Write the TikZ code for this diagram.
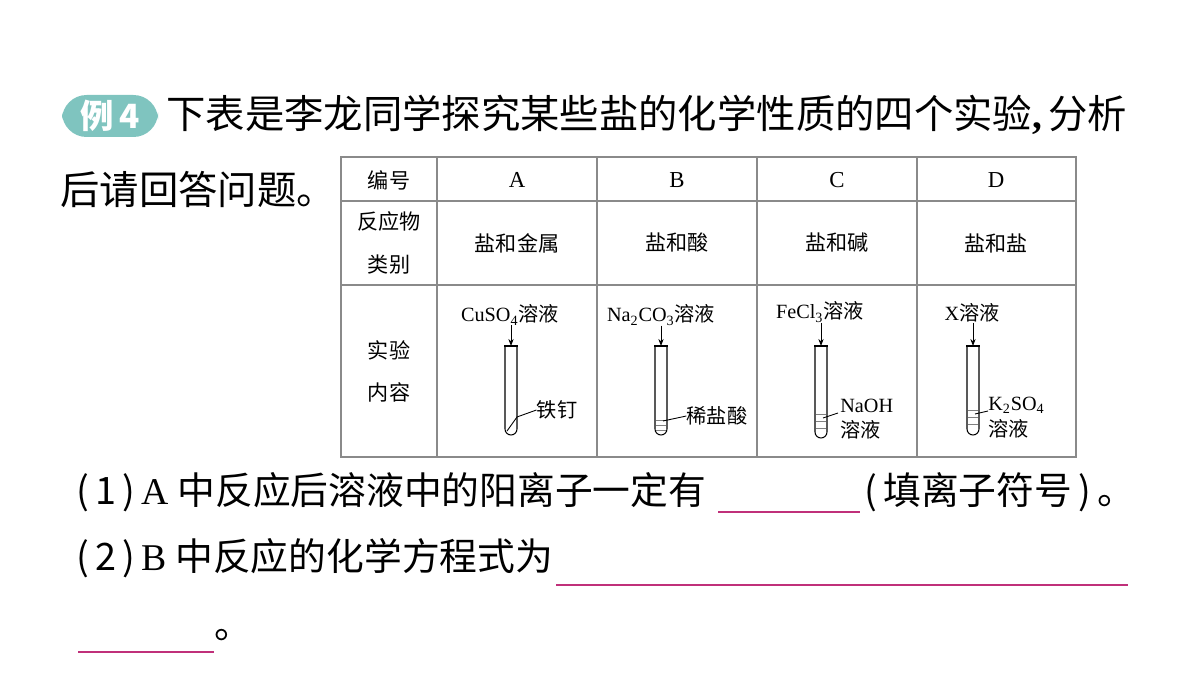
\documentclass[tikz,border=0pt]{standalone}
\usepackage{fontspec}
\setmainfont{Liberation Serif}
\newfontfamily\cjk{Noto Sans CJK SC}
\usetikzlibrary{arrows.meta}
\definecolor{teal1}{HTML}{7FC4BF}
\definecolor{mag}{HTML}{C0307A}
\definecolor{grid}{HTML}{8A8A8A}
\begin{document}
\begin{tikzpicture}[x=0.02cm,y=-0.02cm,
  big/.style={font=\cjk\fontsize{22.4}{23}\selectfont,inner sep=0,anchor=west},
  qs/.style={font=\cjk\fontsize{21.5}{21}\selectfont,inner sep=0,anchor=west},
  tb/.style={font=\cjk\fontsize{12}{12}\selectfont,inner sep=0},
  lab/.style={font=\fontsize{11.5}{12}\selectfont,inner sep=0},
  tube/.style={line width=0.6pt},
  arr/.style={-{Stealth[length=4pt,width=3pt]},line width=0.5pt},
  blank/.style={mag,line width=0.7pt}]
\useasboundingbox (0,0) rectangle (1200,675);
% badge
\node[fill=teal1,rounded corners=14pt,minimum width=96*0.02cm,minimum height=42*0.02cm,inner sep=0,
  font=\cjk\bfseries\fontsize{19}{19}\selectfont,text=white] (badge) at (110,116) {例\,4};
\node[big] (l1) at (166,115) {下表是李龙同学探究某些盐的化学性质的四个实验{\rmfamily\bfseries,}\,分析};
\node[big] (l2) at (60,190) {后请回答问题。};
% table
\draw[grid,line width=0.9pt] (341,157) rectangle (1076,457);
\draw[grid,line width=0.6pt] (341,201)--(1076,201) (341,285)--(1076,285);
\foreach \x in {437,597,757,917}{\draw[grid,line width=0.6pt] (\x,157)--(\x,457);}
\node[tb] (h0) at (389,180) {编号};
\node[lab,font=\fontsize{13}{13}\selectfont] (hA) at (517,180) {A};
\node[lab,font=\fontsize{13}{13}\selectfont] (hB) at (677,180) {B};
\node[lab,font=\fontsize{13}{13}\selectfont] (hC) at (837,180) {C};
\node[lab,font=\fontsize{13}{13}\selectfont] (hD) at (996,180) {D};
\node[tb] (r1a) at (389,221) {反应物};
\node[tb] (r1b) at (389,265) {类别};
\node[tb] (cA) at (517,243) {盐和金属};
\node[tb] (cB) at (677,243) {盐和酸};
\node[tb] (cC) at (837,243) {盐和碱};
\node[tb] (cD) at (996,243) {盐和盐};
\node[tb] (r2a) at (389,350) {实验};
\node[tb] (r2b) at (389,392) {内容};
% tubes
\foreach \n/\x/\b in {A/511/435,B/661/435,C/821/438,D/973/435}{
  \draw[tube] (\x-6,346) -- (\x-6,\b-6) arc[start angle=180,end angle=360,radius=0.12cm] -- (\x+6,346);
  \draw[line width=1pt] (\x-7,346)--(\x+7,346);
  \coordinate (top\n) at (\x,346);
}
\node[lab] (tA) at (510,315) {CuSO\textsubscript{4}{\cjk 溶液}};
\node[lab] (tB) at (661,315) {Na\textsubscript{2}CO\textsubscript{3}{\cjk 溶液}};
\node[lab] (tC) at (820,312) {FeCl\textsubscript{3}{\cjk 溶液}};
\node[lab] (tD) at (972,313) {X{\cjk 溶液}};
\draw[arr] (tA.south -| topA) -- (topA);
\draw[arr] (tB.south -| topB) -- (topB);
\draw[arr] (tC.south -| topC) -- (topC);
\draw[arr] (tD.south -| topD) -- (topD);
% A nail
\node[lab,font=\cjk\fontsize{11.5}{12}\selectfont] (nA) at (557,410) {铁钉};
\coordinate (nail1) at (507,431);
\draw[line width=0.5pt] (nail1) -- (517,417) -- (nA.west);
% liquids
\foreach \x/\ys in {661/{420,425,430},821/{414,421,428},973/{410,417,424}}{
  \foreach \y in \ys {\draw[line width=0.4pt,gray] (\x-5,\y)--(\x+5,\y);}
}
\node[lab,font=\cjk\fontsize{11.5}{12}\selectfont] (nB) at (717,416) {稀盐酸};
\draw[line width=0.5pt] (663,421)--(nB.west);
\node[lab,anchor=west] (nC1) at (840,406) {NaOH};
\node[lab,anchor=west,font=\cjk\fontsize{11.5}{12}\selectfont] (nC2) at (840,430) {溶液};
\draw[line width=0.5pt] (823,418)--(838,413);
\node[lab,anchor=west] (nD1) at (988,405) {K\textsubscript{2}SO\textsubscript{4}};
\node[lab,anchor=west,font=\cjk\fontsize{11.5}{12}\selectfont] (nD2) at (988,429) {溶液};
\draw[line width=0.5pt] (975,414)--(988,411);
% questions
\node[qs] (q1) at (76,492) {(\,1\,)\,{\rmfamily A} 中反应后溶液中的阳离子一定有};
\coordinate (b1s) at (718,512); \coordinate (b1e) at (860,512);
\draw[blank] (b1s)--(b1e);
\node[qs] (q1b) at (864,492) {(\,填离子符号\,)\,。};
\node[qs] (q2) at (76,558) {(\,2\,)\,{\rmfamily B} 中反应的化学方程式为};
\coordinate (b2s) at (556,585); \coordinate (b2e) at (1128,585);
\draw[blank] (b2s)--(b2e);
\coordinate (b3s) at (78,652); \coordinate (b3e) at (214,652);
\draw[blank] (b3s)--(b3e);
\node[qs] (q3) at (214,635) {。};
\end{tikzpicture}
\end{document}
